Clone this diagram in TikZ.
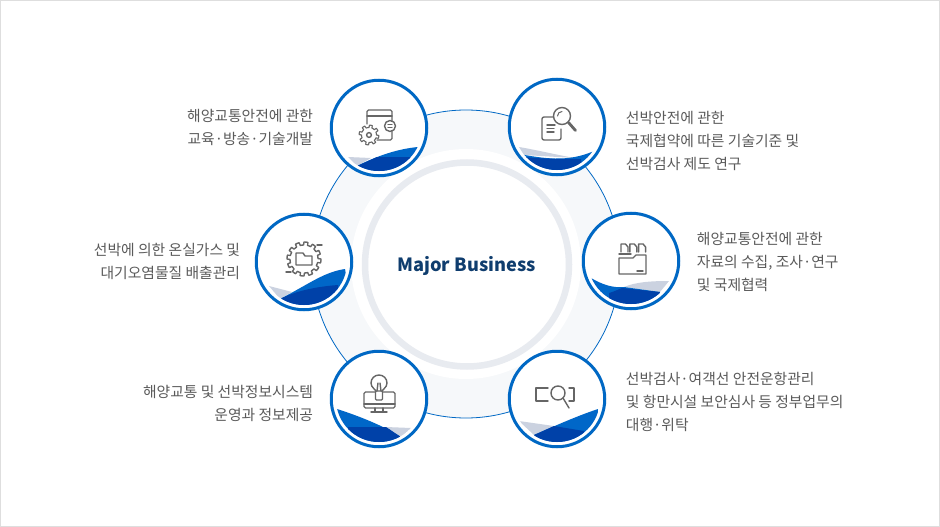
\documentclass[tikz,border=0pt]{standalone}
\usepackage{fontspec}
\setmainfont{Noto Sans CJK KR}
\usetikzlibrary{positioning}
\definecolor{ringblue}{HTML}{0068C4}
\definecolor{bandfill}{HTML}{F6F8FA}
\definecolor{hubgray}{HTML}{E8EBF0}
\definecolor{wavegray}{HTML}{CBD2E0}
\definecolor{wavemid}{HTML}{0067C8}
\definecolor{wavedark}{HTML}{0041A8}
\definecolor{icongray}{HTML}{666666}
\definecolor{txtgray}{HTML}{5A5A5A}
\definecolor{titleblue}{HTML}{0F3D6E}
\begin{document}
\begin{tikzpicture}[
  x=1pt, y=-1pt,
  font=\fontsize{14.8}{23}\selectfont, text=txtgray,
  band/.style={circle, draw=ringblue, line width=0.8pt, fill=bandfill, minimum size=308pt, inner sep=0pt},
  whitedisc/.style={circle, fill=white, minimum size=230pt, inner sep=0pt},
  hub/.style={circle, draw=hubgray, line width=6.5pt, fill=white, minimum size=204pt, inner sep=0pt},
  title/.style={inner sep=0pt, font=\fontsize{18.2}{22}\bfseries\selectfont, text=titleblue},
  biz/.style={circle, draw=ringblue, line width=3pt, fill=white, minimum size=95.5pt, inner sep=0pt},
  lblr/.style={align=right, inner sep=0pt},
  lbll/.style={align=left, inner sep=0pt},
  ico/.style={draw=icongray, line width=1.4pt, line join=round, line cap=round}]
\useasboundingbox (0,0) rectangle (940,527);
\draw[draw=black!13, fill=white] (0.5,0.5) rectangle (939.5,526.5);
\node[band] (band) at (466,264) {};
\node[whitedisc] (disc) at (466,264) {};
\node[hub] (hub) at (467,264.5) {};
\node[title] (hubtxt) at (466.5,266) {Major Business};
\node[biz] (edu) at (379,128) {};
\node[biz] (treaty) at (557,127) {};
\node[biz] (ghg) at (304,262) {};
\node[biz] (data) at (631,261) {};
\node[biz] (info) at (379,399) {};
\node[biz] (agent) at (557,399) {};
\node[lblr, left=16.5pt of edu, yshift=1pt] (edutxt) {해양교통안전에 관한\\교육·방송·기술개발};
\node[lbll, right=19.5pt of treaty, yshift=-14pt] (treatytxt) {선박안전에 관한\\국제협약에 따른 기술기준 및\\선박검사 제도 연구};
\node[lblr, left=14.5pt of ghg, yshift=1pt] (ghgtxt) {선박에 의한 온실가스 및\\대기오염물질 배출관리};
\node[lbll, right=16.5pt of data, yshift=-1pt] (datatxt) {해양교통안전에 관한\\자료의 수집, 조사·연구\\및 국제협력};
\node[lblr, left=16.5pt of info, yshift=-4pt] (infotxt) {해양교통 및 선박정보시스템\\운영과 정보제공};
\node[lbll, right=19.5pt of agent, yshift=-3pt] (agenttxt) {선박검사·여객선 안전운항관리\\및 항만시설 보안심사 등 정부업무의\\대행·위탁};
% waves
\begin{scope}[shift={(edu.center)}]
\clip (0,0) circle (43);
\fill[wavegray] (-31,29) -- (-8,30) -- (-22,38) -- cycle;
\fill[wavemid] (39,19) .. controls (18,21) and (-2,28) .. (-22,38) -- (0,50) -- (45,30) -- cycle;
\fill[wavedark] (-22,38) -- (-2,29) -- (33,29) -- (33,50) -- (-22,50) -- cycle;
\end{scope}
\begin{scope}[shift={(treaty.center)}]
\clip (0,0) circle (43);
\fill[wavegray] (-38,20) .. controls (-20,23) and (0,28) .. (18,31) -- (-33,28) -- cycle;
\fill[wavemid] (-38,27) .. controls (-15,31) and (10,36) .. (37,24) -- (30,50) -- (-38,50) -- cycle;
\fill[wavedark] (-33,30) .. controls (-15,32) and (5,32) .. (24,32) -- (26,50) -- (-33,50) -- cycle;
\end{scope}
\begin{scope}[shift={(ghg.center)}]
\clip (0,0) circle (43);
\fill[wavegray] (-35,24) -- (-12,30) -- (-24,37) -- cycle;
\fill[wavemid] (41,7) .. controls (20,10) and (5,22) .. (-24,37) -- (0,50) -- (45,30) -- cycle;
\fill[wavedark] (-24,37) .. controls (-10,30) and (8,25) .. (34,23) -- (34,50) -- (-24,50) -- cycle;
\end{scope}
\begin{scope}[shift={(data.center)}]
\clip (0,0) circle (43);
\fill[wavegray] (-7,26) .. controls (5,21) and (20,20) .. (38,20) -- (29,31) -- cycle;
\fill[wavemid] (-40,17) .. controls (-28,24) and (-18,27) .. (-7,26) -- (29,31) -- (20,50) -- (-40,50) -- cycle;
\fill[wavedark] (-22,32) .. controls (-15,30) and (-12,28) .. (-9,27) -- (29,31) -- (20,50) -- (-22,50) -- cycle;
\end{scope}
\begin{scope}[shift={(info.center)}]
\clip (0,0) circle (43);
\fill[wavegray] (7,28) -- (32,29) -- (22,38) -- cycle;
\fill[wavemid] (-42,10) .. controls (-20,17) and (5,27) .. (22,38) -- (10,50) -- (-42,50) -- cycle;
\fill[wavedark] (-31,28) -- (7,28) .. controls (12,31) and (17,35) .. (22,38) -- (10,50) -- (-31,50) -- cycle;
\end{scope}
\begin{scope}[shift={(agent.center)}]
\clip (0,0) circle (43);
\fill[wavegray] (-38,22) -- (-3,27) -- (-23,36) -- cycle;
\fill[wavemid] (41,10) .. controls (20,17) and (0,26) .. (-23,36) -- (0,50) -- (45,30) -- cycle;
\fill[wavedark] (-23,36) -- (-3,27) -- (27,32) -- (27,50) -- (-23,50) -- cycle;
\end{scope}
% icons
\begin{scope}[shift={(edu.center)}]
\draw[ico, rounded corners=1.5pt] (-12,-4) -- (-12,-18) -- (13,-18) -- (13,12) -- (-2,12);
\draw[ico] (-12,-12) -- (13,-12);
\draw[ico, fill=white] (11,-2) circle (5.5);
\draw[ico] (9,-3.5) -- (13,-3.5) (9,-0.5) -- (13,-0.5);
\draw[ico, line width=1.1pt, fill=white] plot[domain=0:360, samples=129] ({-10+(7.5+2.4*(sin(8*\x)>0))*cos(\x)}, {7+(7.5+2.4*(sin(8*\x)>0))*sin(\x)}) -- cycle;
\draw[ico] (-10,7) circle (2.4);
\end{scope}
\begin{scope}[shift={(treaty.center)}]
\draw[ico, rounded corners=2pt] (-4,-10) -- (-15,-10) -- (-15,13) -- (4,13) -- (4,2);
\draw[ico] (-10,-2) -- (-2,-2) (-10,1.5) -- (-3,1.5) (-10,5) -- (-3,5);
\draw[ico, fill=white] (5,-11) circle (8.5);
\draw[ico, line width=1pt] (0.5,-11) arc (180:270:4.5);
\draw[ico, line width=2.8pt] (11.5,-4.5) -- (18.5,3.5);
\end{scope}
\begin{scope}[shift={(ghg.center)}]
\draw[ico, fill=white] plot[domain=0:360, samples=193] ({(14+3*(sin(12*\x+15)>0))*cos(\x)}, {-3+(14+3*(sin(12*\x+15)>0))*sin(\x)}) -- cycle;
\draw[ico] (-8,3) -- (-8,-9) -- (-1,-9) -- (1,-6) -- (8,-6) -- (8,3) -- cycle;
\draw[ico] (13,-17) -- (18,-17) (-18,10) -- (-13,10);
\end{scope}
\begin{scope}[shift={(data.center)}]
\draw[ico] (-12,-3) -- (-12,13) -- (15,13) -- (15,-6) -- (5,-6) -- (2,-3) -- cycle;
\draw[ico] (6,10) -- (12,10) (-12,-7) -- (0,-7);
\foreach \dx in {-10,-1.2,7.6}
  \draw[ico] (\dx,-9) -- (\dx,-17) -- ({\dx+4.5},-17) -- ({\dx+7},-14) -- ({\dx+7},-9);
\end{scope}
\begin{scope}[shift={(info.center)}]
\draw[ico, rounded corners=1.5pt] (-15,-7) rectangle (16,9);
\draw[ico] (-15,5) -- (16,5);
\draw[ico] (-4,9) -- (-4,13) (4,9) -- (4,13) (-8,13) -- (8,13);
\draw[ico, fill=white] (-3,-7) .. controls (-3,-10) and (-8,-11) .. (-8,-16) arc (180:360:8) .. controls (8,-11) and (3,-10) .. (3,-7) -- cycle;
\draw[ico, fill=white, rounded corners=1pt] (-3.5,-8) rectangle (3.5,1);
\draw[ico] (-2,-8) -- (-1,-16) (2,-8) -- (1,-16);
\end{scope}
\begin{scope}[shift={(agent.center)}]
\draw[ico] (-9,-11) -- (-21,-11) -- (-21,2) -- (-9,2);
\draw[ico] (12,-11) -- (17,-11) -- (17,2) -- (12,2);
\draw[ico] (1,-6) circle (7);
\draw[ico] (6,-1) -- (12,9);
\end{scope}
\end{tikzpicture}
\end{document}
